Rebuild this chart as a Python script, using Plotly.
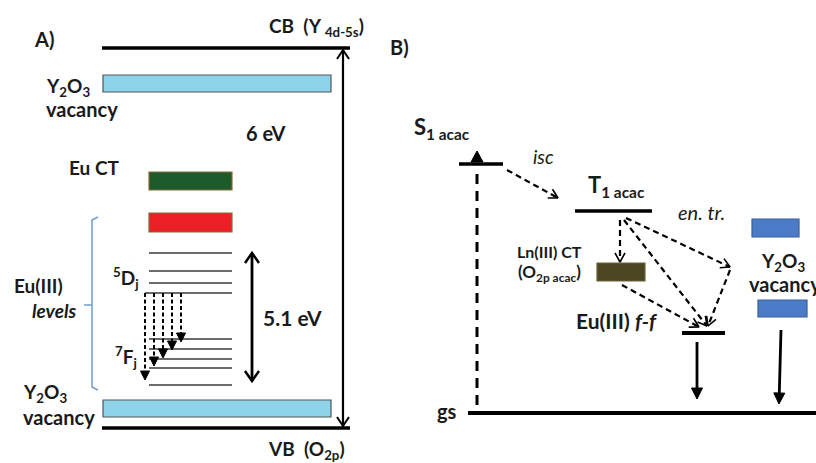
import numpy as np
import plotly.graph_objects as go

FONT = "Lato"

# ---------------- Panel A data (diagram coordinates, px-like units) ----------------
band_x = [102, 350]
cb_y = 48
vb_y = 428
vac_A_x = [103, 331]
vac_A_y = [(75, 92), (400, 417)]
ct_x = [149, 232]
ct_bars_y = [(172, 190), (213, 232)]
ct_colors = ["#1d5a2c", "#ec1f26"]
lvl_x = [149, 232]
levels_5D = [253, 271, 283, 293]
levels_7F = [339, 349, 359, 368, 385]
trans_x = [181, 172, 163, 154, 145]
trans_y_end = [342, 350, 358, 366, 380]
gap_arrow_x = 343
eu_arrow_x = 252
eu_arrow_y = [253, 381]
bracket = dict(x=92, y0=217, y1=390, ymid=305)

# ---------------- Panel B data ----------------
gs_y = 413
gs_x = [468, 816]
s1 = dict(x0=459, x1=503, y=164)
t1 = dict(x0=575, x1=652, y=211)
ff = dict(x0=682, x1=725, y=333)
ct_B = dict(x0=597, x1=645, y0=263, y1=281)
vac_B = [dict(x0=752, x1=799, y0=219, y1=237), dict(x0=758, x1=807, y0=300, y1=317)]
# dashed transfer arrows (start x, start y, end x, end y)
dashed_B = [
    (507, 170, 558, 198),   # isc
    (620, 220, 620, 262),   # T1 -> Ln CT
    (626, 218, 730, 267),   # T1 -> vacancy
    (624, 220, 707, 326),   # T1 -> f-f
    (730, 270, 708, 326),   # vacancy -> f-f
    (622, 285, 699, 327),   # Ln CT -> f-f
]
solid_B = [(697, 342, 697, 399), (781, 330, 779, 404)]
s1_abs_x = 477
s1_abs_y = [405, 151]

fig = go.Figure()


def line(xs, ys, color="black", width=2.0, dash="solid"):
    fig.add_trace(go.Scatter(x=xs, y=ys, mode="lines",
                             line=dict(color=color, width=width, dash=dash),
                             hoverinfo="skip", showlegend=False))


def head(x0, y0, x1, y1, L=10, W=4.5, filled=True, color="black", width=1.5):
    d = np.array([x1 - x0, y1 - y0], float)
    d /= np.linalg.norm(d)
    n = np.array([-d[1], d[0]])
    tip = np.array([x1, y1], float)
    base = tip - d * L
    p1 = base + n * W
    p2 = base - n * W
    if filled:
        fig.add_trace(go.Scatter(x=[tip[0], p1[0], p2[0], tip[0]],
                                 y=[tip[1], p1[1], p2[1], tip[1]],
                                 mode="lines", fill="toself", fillcolor=color,
                                 line=dict(color=color, width=1),
                                 hoverinfo="skip", showlegend=False))
    else:
        fig.add_trace(go.Scatter(x=[p1[0], tip[0], p2[0]], y=[p1[1], tip[1], p2[1]],
                                 mode="lines", line=dict(color=color, width=width),
                                 hoverinfo="skip", showlegend=False))


def arrow(x0, y0, x1, y1, width=2, dash="solid", filled=True, L=10, W=4.5, both=False, hw=1.5):
    d = np.array([x1 - x0, y1 - y0], float)
    d /= np.linalg.norm(d)
    ex, ey = (x1 - d[0] * (L * 0.6), y1 - d[1] * (L * 0.6)) if filled else (x1, y1)
    sx, sy = (x0 + d[0] * (L * 0.6), y0 + d[1] * (L * 0.6)) if (both and filled) else (x0, y0)
    line([sx, ex], [sy, ey], width=width, dash=dash)
    head(x0, y0, x1, y1, L=L, W=W, filled=filled, width=hw)
    if both:
        head(x1, y1, x0, y0, L=L, W=W, filled=filled, width=hw)


def rect(x0, x1, y0, y1, fill, edge):
    fig.add_shape(type="rect", xref="x", yref="y", x0=x0, x1=x1, y0=y0, y1=y1,
                  fillcolor=fill, line=dict(color=edge, width=1.2), layer="above")


def text(x, y, s, size=16, anchor="center", color="#1a1a1a", bold=True):
    fig.add_annotation(x=x, y=y, xref="x", yref="y", text=s, showarrow=False,
                       xanchor=anchor, yanchor="middle",
                       font=dict(family=FONT, size=size, color=color,
                                 weight="bold" if bold else "normal"))


# ---------------- Panel A ----------------
line(band_x, [cb_y, cb_y], width=3.5)
line(band_x, [vb_y, vb_y], width=3.5)
for (y0, y1) in vac_A_y:
    rect(vac_A_x[0], vac_A_x[1], y0, y1, "#8dd3ea", "#555555")
for (y0, y1), c in zip(ct_bars_y, ct_colors):
    rect(ct_x[0], ct_x[1], y0, y1, c, "#8a6a3a")
for y in levels_5D + levels_7F:
    line(lvl_x, [y, y], color="#3a3a3a", width=1.6)
line([trans_x[-1], lvl_x[0]], [levels_5D[-1], levels_5D[-1]], color="#3a3a3a", width=1.6)
for x, ye in zip(trans_x, trans_y_end):
    arrow(x, levels_5D[-1], x, ye, width=2, dash="4px,2.5px", filled=True, L=9, W=4.5)
arrow(gap_arrow_x, vb_y - 2, gap_arrow_x, cb_y + 2, width=2.2, filled=False, L=9, W=6, both=True, hw=2)
arrow(eu_arrow_x, eu_arrow_y[1], eu_arrow_x, eu_arrow_y[0], width=2.8, filled=False, L=10, W=7, both=True, hw=2.5)
bx = bracket["x"]
line([bx + 6, bx, bx, bx + 6], [bracket["y0"], bracket["y0"] + 3, bracket["y1"] - 3, bracket["y1"]],
     color="#6f9bd3", width=1.5)
line([bx, bx - 8], [bracket["ymid"], bracket["ymid"]], color="#6f9bd3", width=1.5)

text(44, 39, "A)", 20)
text(316, 27, "CB  (Y <sub>4d-5s</sub>)", 19)
text(44, 87, "Y<sub>2</sub>O<sub>3</sub>", 19, anchor="left")
text(44, 109, "vacancy", 20, anchor="left")
text(266, 133, "6 eV", 20)
text(94, 167, "Eu CT", 19)
text(38, 285, "Eu(III)", 19)
text(54, 310, "<i>levels</i>", 19)
text(126, 278, "<sup>5</sup>D<sub>j</sub>", 19)
text(126, 357, "<sup>7</sup>F<sub>j</sub>", 19)
text(292, 317, "5.1 eV", 21)
text(21, 393, "Y<sub>2</sub>O<sub>3</sub>", 19, anchor="left")
text(21, 417, "vacancy", 20, anchor="left")
text(306, 450, "VB  (O<sub>2p</sub>)", 19)

# ---------------- Panel B ----------------
line(gs_x, [gs_y, gs_y], width=4)
line([s1["x0"], s1["x1"]], [s1["y"], s1["y"]], width=3.5)
line([t1["x0"], t1["x1"]], [t1["y"], t1["y"]], width=3.5)
line([ff["x0"], ff["x1"]], [ff["y"], ff["y"]], width=4)
rect(ct_B["x0"], ct_B["x1"], ct_B["y0"], ct_B["y1"], "#4c4722", "#6b6436")
for v in vac_B:
    rect(v["x0"], v["x1"], v["y0"], v["y1"], "#4b7bc6", "#38609c")
line([s1_abs_x, s1_abs_x], [s1_abs_y[0], s1["y"] + 9], width=3, dash="10px,7px")
head(s1_abs_x, s1["y"], s1_abs_x, s1_abs_y[1], L=11, W=6, filled=True)
for (x0, y0, x1, y1) in dashed_B:
    arrow(x0, y0, x1, y1, width=2.2, dash="6px,4px", filled=False, L=9, W=5, hw=1.6)
for (x0, y0, x1, y1) in solid_B:
    arrow(x0, y0, x1, y1, width=2.8, filled=True, L=11, W=5.5)

text(399, 47, "B)", 20)
text(412, 128, "S<sub>1 acac</sub>", 22, anchor="left")
text(543, 156, "<i>isc</i>", 19, bold=False)
text(586, 186, "T<sub>1 acac</sub>", 22, anchor="left")
text(676, 212, "<i>en. tr.</i>", 20, anchor="left", bold=False)
text(549, 251, "Ln(III) CT", 16)
text(549, 273, "(O<sub>2p acac</sub>)", 17)
text(617, 320, "Eu(III) <i>f-f</i>", 21)
text(783, 262, "Y<sub>2</sub>O<sub>3</sub>", 19)
text(747, 284, "vacancy", 20, anchor="left")
text(447, 411, "gs", 20)

fig.update_layout(width=816, height=463,
                  margin=dict(l=0, r=0, t=0, b=0, autoexpand=False),
                  paper_bgcolor="white", plot_bgcolor="white",
                  xaxis=dict(range=[0, 816], visible=False, fixedrange=True),
                  yaxis=dict(range=[463, 0], visible=False, fixedrange=True),
                  showlegend=False)
fig.write_html("out.html", config={"displayModeBar": False, "staticPlot": True},
               post_script="document.body.style.margin='0';")
